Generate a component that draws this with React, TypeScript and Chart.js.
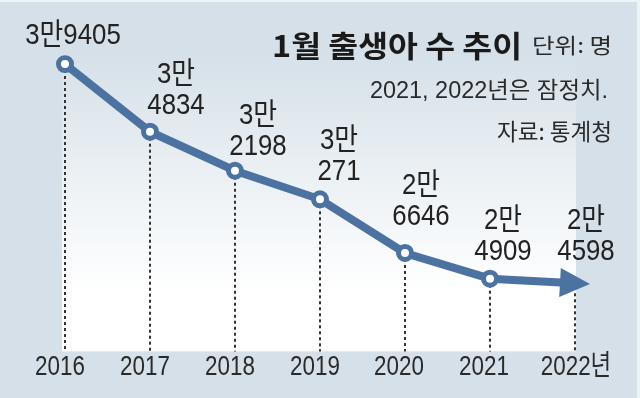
import React, { useEffect, useRef } from "react";
import { Chart, registerables } from "chart.js";

Chart.register(...registerables);

// ---- data ----
const years = ["2016", "2017", "2018", "2019", "2020", "2021", "2022"];
const lastYearSuffix = "년";
const births = [39405, 34834, 32198, 30271, 26646, 24909, 24598];
const titleText = "1월 출생아 수 추이";
const unitText = "단위: 명";
const noteText = "2021, 2022년은 잠정치.";
const sourceText = "자료: 통계청";
const tenThousandWord = "만";

// ---- layout / style ----
const labelOffsets: [number, number][] = [
  [8, -28], [26, -26], [23, -24], [19, -28], [16, -36], [13, -27], [11, -32],
];
const labelTwoLines = [false, true, true, true, true, true, true];
const axisLabelShift = [-5, -5, -5, -5, -6, -6, 1];
const BG = "#d5e0e8";
const LINE = "#4b72a0";
const TEXT = "#222222";
const NUMF = "'Liberation Sans', 'Noto Sans CJK KR', sans-serif";
const KR = "'Noto Sans CJK KR', sans-serif";

function splitLabel(v: number): string[] {
  const man = Math.floor(v / 10000);
  const rest = String(v % 10000);
  return [man + tenThousandWord, rest];
}

function drawText(ctx: CanvasRenderingContext2D, text: string, x: number, y: number,
  font: string, sx: number, align: CanvasTextAlign, baseline: CanvasTextBaseline) {
  ctx.save();
  ctx.font = font;
  ctx.textAlign = align;
  ctx.textBaseline = baseline;
  ctx.translate(x, y);
  ctx.scale(sx, 1);
  ctx.fillText(text, 0, 0);
  ctx.restore();
}

function fitScale(ctx: CanvasRenderingContext2D, text: string, font: string, target: number) {
  ctx.save();
  ctx.font = font;
  const w = ctx.measureText(text).width;
  ctx.restore();
  return target / w;
}

const decorPlugin = {
  id: "decor",
  beforeDraw(chart: any) {
    const { ctx, chartArea: a, width, height } = chart;
    ctx.save();
    ctx.fillStyle = BG;
    ctx.fillRect(0, 0, width, height);
    const g = ctx.createLinearGradient(0, 50, 0, a.bottom);
    g.addColorStop(0, BG);
    g.addColorStop(0.8, "#ffffff");
    g.addColorStop(1, "#ffffff");
    ctx.fillStyle = g;
    ctx.fillRect(a.left - 3, 0, a.right - a.left + 4, a.bottom);
    ctx.fillStyle = "#eef3f6";
    ctx.fillRect(0, 0, width, 2);
    ctx.fillRect(width - 3, 0, 3, height);
    ctx.restore();
  },
  beforeDatasetsDraw(chart: any) {
    const { ctx, chartArea: a } = chart;
    const meta = chart.getDatasetMeta(0);
    ctx.save();
    ctx.strokeStyle = "#333333";
    ctx.lineWidth = 2;
    ctx.setLineDash([3, 3]);
    meta.data.forEach((p: any, i: number) => {
      const start = i === meta.data.length - 1 ? p.y + 10 : p.y;
      ctx.beginPath();
      ctx.moveTo(Math.round(p.x), start);
      ctx.lineTo(Math.round(p.x), a.bottom);
      ctx.stroke();
    });
    ctx.restore();
  },
  afterDatasetsDraw(chart: any) {
    const { ctx } = chart;
    const meta = chart.getDatasetMeta(0);
    const n = meta.data.length;
    const p1 = meta.data[n - 2];
    const p2 = meta.data[n - 1];
    const dx = p2.x - p1.x;
    const dy = p2.y - p1.y;
    const len = Math.hypot(dx, dy);
    const ux = dx / len, uy = dy / len;
    const tipX = p2.x + ux * 15, tipY = p2.y + uy * 15;
    const bx = p2.x - ux * 15, by = p2.y - uy * 15;
    const hw = 14.5;
    ctx.save();
    ctx.fillStyle = LINE;
    ctx.beginPath();
    ctx.moveTo(tipX, tipY);
    ctx.lineTo(bx - uy * hw, by + ux * hw);
    ctx.lineTo(bx + uy * hw, by - ux * hw);
    ctx.closePath();
    ctx.fill();
    ctx.restore();
  },
  afterDraw(chart: any) {
    const { ctx } = chart;
    const meta = chart.getDatasetMeta(0);
    const xs = chart.scales.x;
    ctx.save();
    ctx.fillStyle = TEXT;
    // value labels
    const vf = `30px ${NUMF}`;
    meta.data.forEach((p: any, i: number) => {
      const [ox, oy] = labelOffsets[i];
      const parts = splitLabel(births[i]);
      const x = p.x + ox;
      const y = p.y + oy;
      if (labelTwoLines[i]) {
        drawText(ctx, parts[0], x, y - 31, vf, 0.86, "center", "middle");
        drawText(ctx, parts[1], x, y, vf, 0.86, "center", "middle");
      } else {
        drawText(ctx, parts[0] + parts[1], x, y, vf, 0.86, "center", "middle");
      }
    });
    // x axis labels (positions from the category scale)
    ctx.fillStyle = "#2a2a2a";
    const af = `28px ${NUMF}`;
    xs.ticks.forEach((t: any, i: number) => {
      const x = xs.getPixelForTick(i) + axisLabelShift[i];
      drawText(ctx, String(t.label), x, xs.bottom - 31, af, 0.8, "center", "middle");
    });
    // title block
    const uf = `21px ${KR}`;
    const us = fitScale(ctx, unitText, uf, 80);
    ctx.fillStyle = "#2a2a2a";
    drawText(ctx, unitText, 612, 53, uf, us, "right", "alphabetic");
    const tf = `bold 30px ${KR}`;
    const ts = fitScale(ctx, titleText, tf, 250);
    ctx.fillStyle = "#1a1a1a";
    drawText(ctx, titleText, 522, 57, tf, ts, "right", "alphabetic");
    const nf = `23px ${NUMF}`;
    const ns = fitScale(ctx, noteText, nf, 238);
    ctx.fillStyle = "#2a2a2a";
    drawText(ctx, noteText, 608, 98, nf, ns, "right", "alphabetic");
    const sf = `23px ${KR}`;
    const ss = fitScale(ctx, sourceText, sf, 115);
    drawText(ctx, sourceText, 612, 140, sf, ss, "right", "alphabetic");
    ctx.restore();
  },
};

export default function App() {
  const ref = useRef<HTMLCanvasElement | null>(null);
  useEffect(() => {
    if (!ref.current) return;
    const labels = years.map((y, i) => (i === years.length - 1 ? y + lastYearSuffix : y));
    const chart = new Chart(ref.current, {
      type: "line",
      data: {
        labels,
        datasets: [
          {
            data: births,
            borderColor: LINE,
            borderWidth: 8,
            tension: 0,
            pointRadius: births.map((_, i) => (i === births.length - 1 ? 0 : 6.5)),
            pointBorderWidth: 5,
            pointBorderColor: LINE,
            pointBackgroundColor: "#ffffff",
            pointHoverRadius: 0,
          },
        ],
      },
      options: {
        animation: false,
        responsive: false,
        events: [],
        layout: { padding: { left: 65, right: 65, top: 55.2, bottom: 0 } },
        plugins: { legend: { display: false }, tooltip: { enabled: false }, title: { display: false } },
        scales: {
          x: {
            offset: false,
            grid: { display: false, drawTicks: false },
            border: { display: false },
            ticks: { display: false, autoSkip: false, maxRotation: 0 },
            afterFit: (s: any) => {
              s.height = 46.6;
            },
          },
          y: {
            display: false,
            min: 20000,
            max: 40000,
          },
        },
      },
      plugins: [decorPlugin],
    });
    return () => chart.destroy();
  }, []);
  return (
    <div style={{ position: "fixed", left: 0, top: 0, width: 640, height: 398 }}>
      <canvas ref={ref} width={640} height={398} style={{ width: 640, height: 398, display: "block" }} />
    </div>
  );
}
